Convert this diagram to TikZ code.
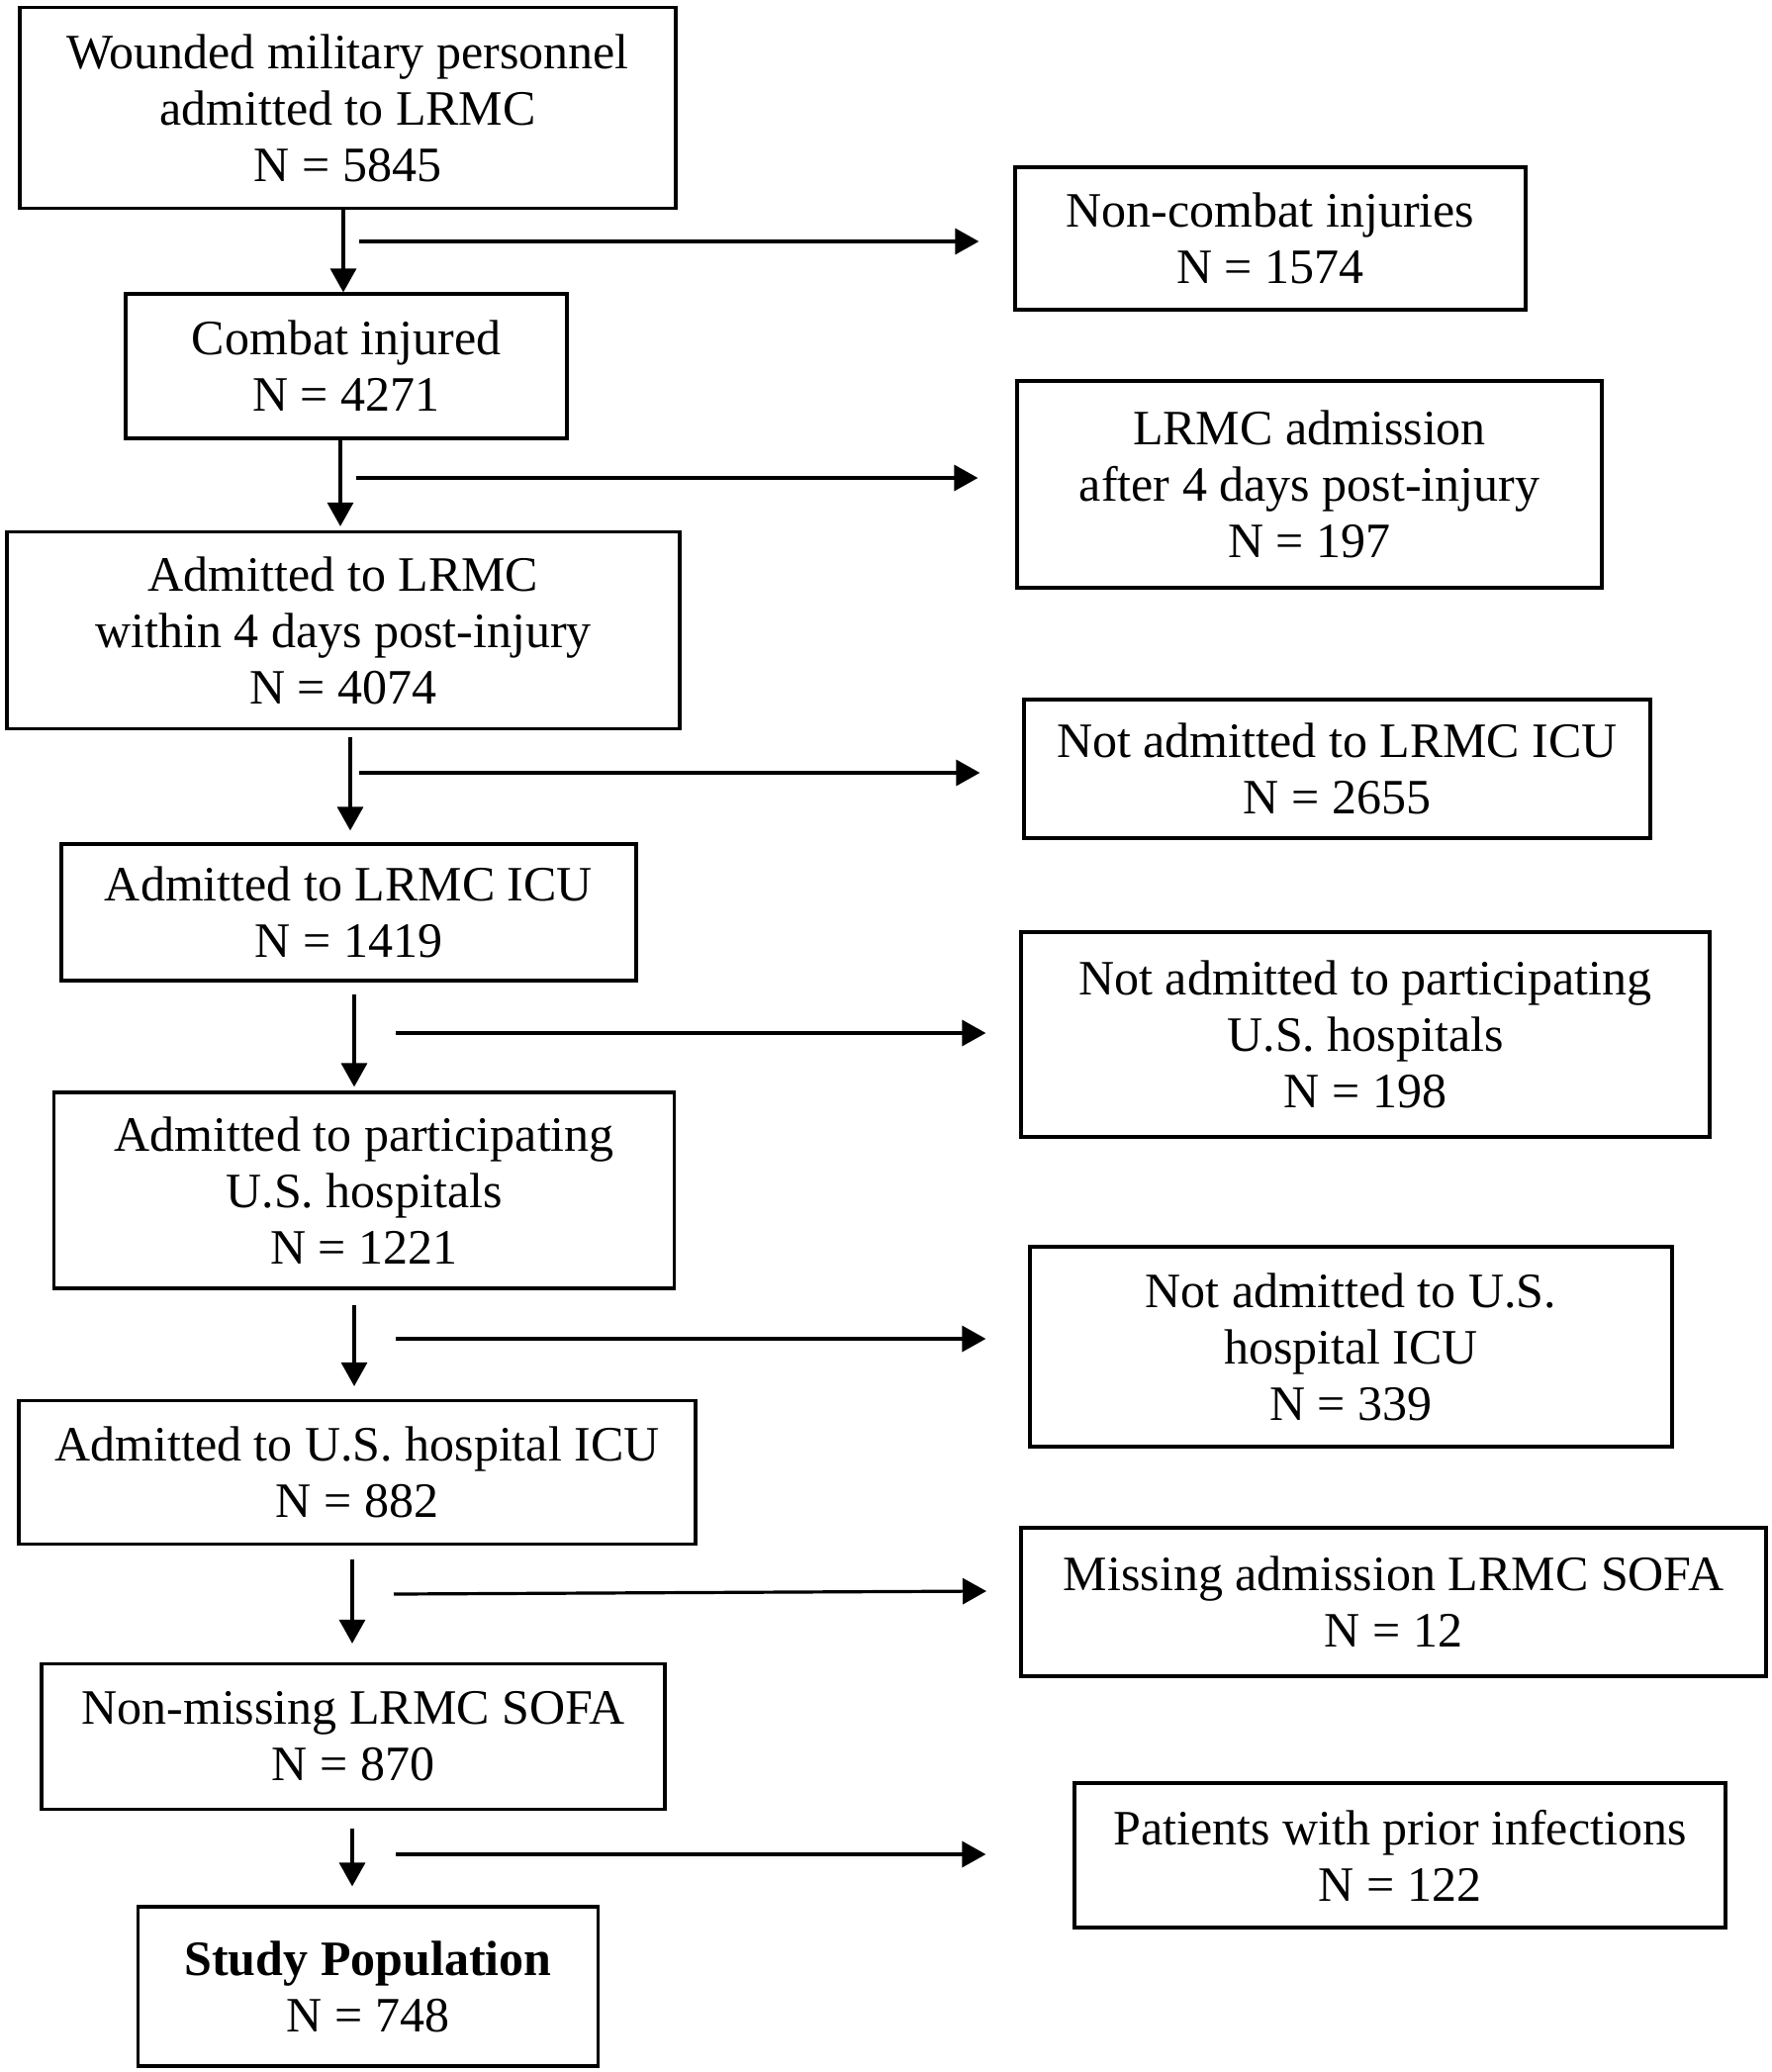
\documentclass[tikz,border=0pt]{standalone}
\usepackage{fontspec}
\setmainfont{Liberation Serif}
\usetikzlibrary{arrows.meta,calc}
\begin{document}
\begin{tikzpicture}[x=0.5pt,y=-0.5pt,
  box/.style={draw, line width=1.6pt, align=center, inner sep=0pt,
    font=\fontsize{25}{28.5}\selectfont},
  arr/.style={line width=1.6pt, -{Triangle[length=12pt,width=13pt]}}]
\useasboundingbox (0,0) rectangle (1791,2094);
% left column
\node[box, minimum width=331.5pt, minimum height=101.5pt] (b1) at (351.5,109) {Wounded military personnel\\admitted to LRMC\\N = 5845};
\node[box, minimum width=223pt, minimum height=73pt] (b2) at (350,370) {Combat injured\\N = 4271};
\node[box, minimum width=340pt, minimum height=99.5pt] (b3) at (347,637) {Admitted to LRMC\\within 4 days post-injury\\N = 4074};
\node[box, minimum width=290.5pt, minimum height=69pt] (b4) at (352.5,922) {Admitted to LRMC ICU\\N = 1419};
\node[box, minimum width=313.75pt, minimum height=99pt] (b5) at (368,1203) {Admitted to participating\\U.S. hospitals\\N = 1221};
\node[box, minimum width=342pt, minimum height=72.5pt] (b6) at (361,1488) {Admitted to U.S. hospital ICU\\N = 882};
\node[box, minimum width=315pt, minimum height=73.5pt] (b7) at (357,1755) {Non-missing LRMC SOFA\\N = 870};
\node[box, minimum width=232.5pt, minimum height=80.5pt] (b8) at (372,2007.5) {\textbf{Study Population}\\N = 748};
% right column
\node[box, minimum width=258pt, minimum height=72pt] (r1) at (1284,241) {Non-combat injuries\\N = 1574};
\node[box, minimum width=295.5pt, minimum height=104.5pt] (r2) at (1323.5,489.5) {LRMC admission\\after 4 days post-injury\\N = 197};
\node[box, minimum width=316.5pt, minimum height=70pt] (r3) at (1351.5,777) {Not admitted to LRMC ICU\\N = 2655};
\node[box, minimum width=348pt, minimum height=103.5pt] (r4) at (1380,1045.5) {Not admitted to participating\\U.S. hospitals\\N = 198};
\node[box, minimum width=324.5pt, minimum height=101pt] (r5) at (1365.5,1361) {Not admitted to U.S.\\hospital ICU\\N = 339};
\node[box, minimum width=376.5pt, minimum height=75pt] (r6) at (1408.5,1619) {Missing admission LRMC SOFA\\N = 12};
\node[box, minimum width=329pt, minimum height=73pt] (r7) at (1415,1875) {Patients with prior infections\\N = 122};
% vertical connectors
\coordinate (v1) at (347,212);
\coordinate (v2) at (344,444);
\coordinate (v3) at (354,745);
\coordinate (v4) at (358,1005);
\coordinate (v5) at (358,1319);
\coordinate (v6) at (356,1576);
\coordinate (v7) at (356,1848);
\draw[arr] (v1) -- (v1 |- b2.north);
\draw[arr, shorten >=2pt] (v2) -- (v2 |- b3.north);
\draw[arr, shorten >=6pt] (v3) -- (v3 |- b4.north);
\draw[arr, shorten >=2pt] (v4) -- (v4 |- b5.north);
\draw[arr, shorten >=6.5pt] (v5) -- (v5 |- b6.north);
\draw[arr, shorten >=9.5pt] (v6) -- (v6 |- b7.north);
\draw[arr, shorten >=9.5pt] (v7) -- (v7 |- b8.north);
% horizontal connectors
\coordinate (h1) at (363,244);
\coordinate (h2) at (360,483);
\coordinate (h3) at (363,781);
\coordinate (h4) at (400,1044);
\coordinate (h5) at (400,1353);
\coordinate (h6) at (398,1611);
\coordinate (h6e) at (997,1608);
\coordinate (h7) at (400,1874);
\draw[arr, shorten >=17.5pt] (h1) -- (h1 -| r1.west);
\draw[arr, shorten >=19pt] (h2) -- (h2 -| r2.west);
\draw[arr, shorten >=21.5pt] (h3) -- (h3 -| r3.west);
\draw[arr, shorten >=17pt] (h4) -- (h4 -| r4.west);
\draw[arr, shorten >=21.5pt] (h5) -- (h5 -| r5.west);
\draw[arr] (h6) -- (h6e);
\draw[arr, shorten >=44pt] (h7) -- (h7 -| r7.west);
\end{tikzpicture}
\end{document}
